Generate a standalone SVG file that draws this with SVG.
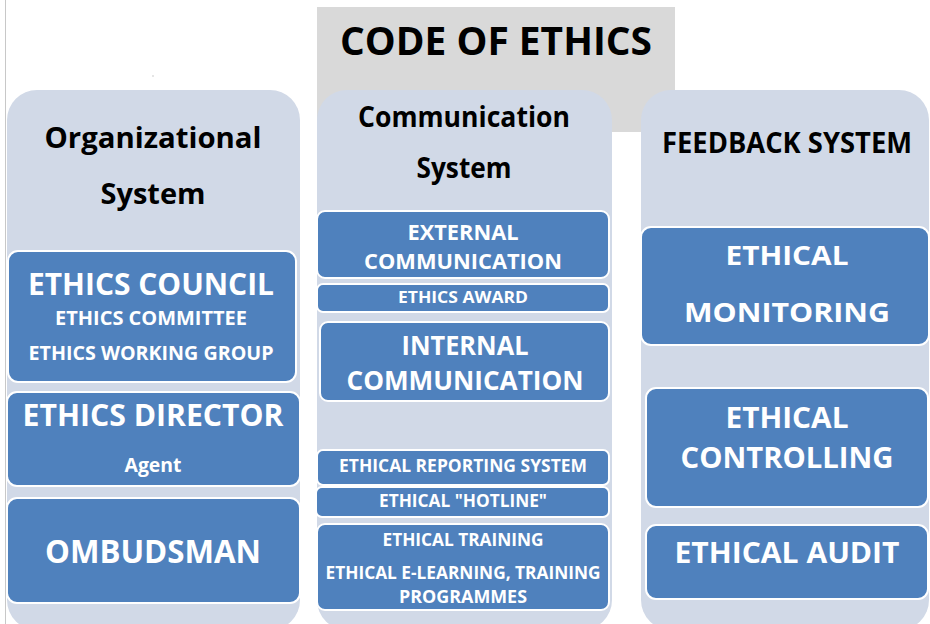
<svg xmlns="http://www.w3.org/2000/svg" width="930" height="624" viewBox="0 0 930 624">
  <style>
    .panel { fill: #d1d9e7; }
    .box { fill: #4f81bd; stroke: #ffffff; stroke-width: 2; }
    .hd { font-family: "Open Sans", "Liberation Sans", sans-serif; font-weight: bold; fill: #000000; text-anchor: middle; }
    .lb { font-family: "Open Sans", "Liberation Sans", sans-serif; font-weight: bold; fill: #ffffff; text-anchor: middle; }
  </style>

  <rect x="0" y="0" width="930" height="624" fill="#ffffff"/>
  <line x1="5.5" y1="0" x2="5.5" y2="624" stroke="#c8c8c8" stroke-width="1"/>
  <rect x="152.5" y="75.5" width="1" height="1" fill="#999999"/>

  <!-- title block -->
  <g id="title">
    <rect x="317" y="7" width="358" height="125" fill="#d9d9d9"/>
    <text class="hd" x="496" y="55" font-size="39" textLength="312" lengthAdjust="spacingAndGlyphs">CODE OF ETHICS</text>
  </g>

  <!-- column backgrounds -->
  <g id="organizational-system">
    <rect class="panel" x="7" y="90" width="293" height="540" rx="30"/>
    <text class="hd" x="153" y="148" font-size="28" textLength="217" lengthAdjust="spacingAndGlyphs">Organizational</text>
    <text class="hd" x="153" y="204" font-size="28" textLength="105" lengthAdjust="spacingAndGlyphs">System</text>
  </g>
  <g id="communication-system">
    <rect class="panel" x="317" y="90" width="295" height="540" rx="30"/>
    <text class="hd" x="464" y="127" font-size="28" textLength="212" lengthAdjust="spacingAndGlyphs">Communication</text>
    <text class="hd" x="464" y="178" font-size="28" textLength="95" lengthAdjust="spacingAndGlyphs">System</text>
  </g>
  <g id="feedback-system">
    <rect class="panel" x="641" y="90" width="288" height="540" rx="30"/>
    <text class="hd" x="787" y="153" font-size="28" textLength="250" lengthAdjust="spacingAndGlyphs">FEEDBACK SYSTEM</text>
  </g>

  <!-- organizational system items -->
  <g id="ethics-council">
    <rect class="box" x="8" y="251" width="288" height="131" rx="10"/>
    <text class="lb" x="151" y="295" font-size="31" textLength="246" lengthAdjust="spacingAndGlyphs">ETHICS COUNCIL</text>
    <text class="lb" x="151" y="325" font-size="19" textLength="192" lengthAdjust="spacingAndGlyphs">ETHICS COMMITTEE</text>
    <text class="lb" x="151" y="360" font-size="19" textLength="245" lengthAdjust="spacingAndGlyphs">ETHICS WORKING GROUP</text>
  </g>
  <g id="ethics-director">
    <rect class="box" x="7" y="392" width="293" height="94" rx="10"/>
    <text class="lb" x="153" y="426" font-size="30" textLength="261" lengthAdjust="spacingAndGlyphs">ETHICS DIRECTOR</text>
    <text class="lb" x="153" y="472" font-size="19" textLength="57" lengthAdjust="spacingAndGlyphs">Agent</text>
  </g>
  <g id="ombudsman">
    <rect class="box" x="7" y="498" width="293" height="105" rx="10"/>
    <text class="lb" x="153" y="563" font-size="33" textLength="216" lengthAdjust="spacingAndGlyphs">OMBUDSMAN</text>
  </g>

  <!-- communication system items -->
  <g id="external-communication">
    <rect class="box" x="317" y="211" width="292" height="67" rx="8"/>
    <text class="lb" x="463" y="240" font-size="22" textLength="111" lengthAdjust="spacingAndGlyphs">EXTERNAL</text>
    <text class="lb" x="463" y="269" font-size="22" textLength="198" lengthAdjust="spacingAndGlyphs">COMMUNICATION</text>
  </g>
  <g id="ethics-award">
    <rect class="box" x="317" y="284" width="292" height="28" rx="6"/>
    <text class="lb" x="463" y="303" font-size="16" textLength="130" lengthAdjust="spacingAndGlyphs">ETHICS AWARD</text>
  </g>
  <g id="internal-communication">
    <rect class="box" x="320" y="322" width="289" height="79" rx="8"/>
    <text class="lb" x="465" y="355" font-size="26" textLength="127" lengthAdjust="spacingAndGlyphs">INTERNAL</text>
    <text class="lb" x="465" y="390" font-size="26" textLength="237" lengthAdjust="spacingAndGlyphs">COMMUNICATION</text>
  </g>
  <g id="ethical-reporting-system">
    <rect class="box" x="317" y="450" width="292" height="35" rx="6"/>
    <text class="lb" x="463" y="472" font-size="17" textLength="248" lengthAdjust="spacingAndGlyphs">ETHICAL REPORTING SYSTEM</text>
  </g>
  <g id="ethical-hotline">
    <rect class="box" x="316" y="487" width="293" height="30" rx="6"/>
    <text class="lb" x="463" y="507" font-size="17" textLength="168" lengthAdjust="spacingAndGlyphs">ETHICAL "HOTLINE"</text>
  </g>
  <g id="ethical-training">
    <rect class="box" x="317" y="524" width="292" height="86" rx="8"/>
    <text class="lb" x="463" y="546" font-size="17" textLength="161" lengthAdjust="spacingAndGlyphs">ETHICAL TRAINING</text>
    <text class="lb" x="463" y="579" font-size="17" textLength="275" lengthAdjust="spacingAndGlyphs">ETHICAL E-LEARNING, TRAINING</text>
    <text class="lb" x="463" y="603" font-size="17" textLength="128" lengthAdjust="spacingAndGlyphs">PROGRAMMES</text>
  </g>

  <!-- feedback system items -->
  <g id="ethical-monitoring">
    <rect class="box" x="641" y="227" width="288" height="118" rx="10"/>
    <text class="lb" x="787" y="265" font-size="27" textLength="123" lengthAdjust="spacingAndGlyphs">ETHICAL</text>
    <text class="lb" x="787" y="322" font-size="27" textLength="206" lengthAdjust="spacingAndGlyphs">MONITORING</text>
  </g>
  <g id="ethical-controlling">
    <rect class="box" x="646" y="388" width="282" height="119" rx="10"/>
    <text class="lb" x="787" y="428" font-size="28" textLength="123" lengthAdjust="spacingAndGlyphs">ETHICAL</text>
    <text class="lb" x="787" y="468" font-size="28" textLength="213" lengthAdjust="spacingAndGlyphs">CONTROLLING</text>
  </g>
  <g id="ethical-audit">
    <rect class="box" x="646" y="525" width="282" height="74" rx="10"/>
    <text class="lb" x="787" y="563" font-size="28" textLength="225" lengthAdjust="spacingAndGlyphs">ETHICAL AUDIT</text>
  </g>

  <g id="connectors"/>
</svg>
